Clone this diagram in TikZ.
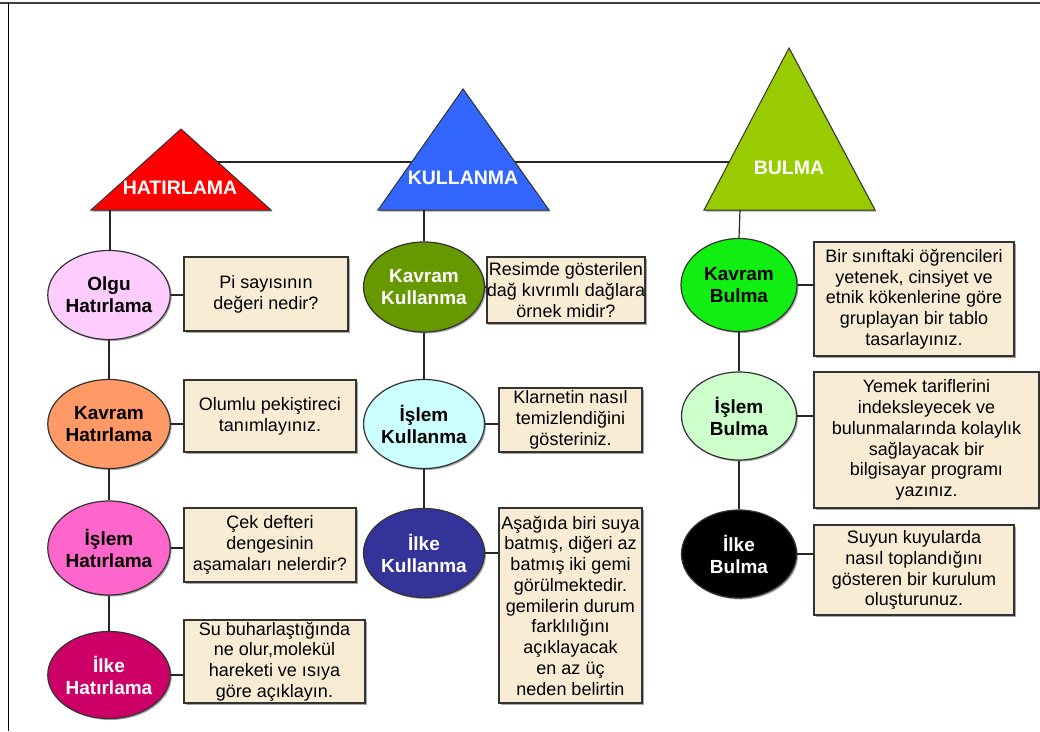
\documentclass[tikz,border=0pt]{standalone}
\usepackage{fontspec}
\setmainfont{Liberation Sans}
\usetikzlibrary{shapes.geometric,shadows}

\definecolor{hatred}{HTML}{FF0000}
\definecolor{kulblue}{HTML}{3366FF}
\definecolor{bulgreen}{HTML}{99CC00}
\definecolor{paper}{HTML}{F8ECD4}
\definecolor{edge}{HTML}{333333}
\definecolor{cOlgu}{HTML}{FFCCFF}
\definecolor{cKavH}{HTML}{FF9966}
\definecolor{cIslH}{HTML}{FF66CC}
\definecolor{cIlkH}{HTML}{CC0066}
\definecolor{cKavK}{HTML}{669900}
\definecolor{cIslK}{HTML}{CCFFFF}
\definecolor{cIlkK}{HTML}{333399}
\definecolor{cKavB}{HTML}{11EE11}
\definecolor{cIslB}{HTML}{CCFFCC}
\definecolor{cIlkB}{HTML}{000000}

\tikzset{
  conn/.style={draw=black!85, line width=1.2pt},
  softshadow/.style={drop shadow={shadow xshift=1.5pt, shadow yshift=-1.5pt, opacity=0.35, fill=black}},
  tri/.style={draw=edge, line width=1pt, softshadow},
  trilabel/.style={text=white, font=\bfseries\fontsize{19.5}{21}\selectfont},
  level/.style={ellipse, draw=edge, line width=1.2pt, inner sep=0pt, align=center,
    softshadow, font=\bfseries\fontsize{19}{22}\selectfont},
  qbox/.style={rectangle, draw=edge, line width=1.2pt, fill=paper, inner sep=0pt,
    align=center, softshadow, font=\fontsize{18}{20.75}\selectfont}
}

\begin{document}
\begin{tikzpicture}[x=1pt,y=-1pt]
\useasboundingbox (0,0) rectangle (1040,731);

% outer frame
\draw[black!75, line width=2pt] (0,3) -- (1040,3);
\draw[black, line width=1pt] (8,3) -- (8,731);

% line joining the three headings
\coordinate (topL) at (181,162);
\coordinate (topR) at (789,162);
\draw[conn] (topL) -- (topR);

% heading triangles
\filldraw[tri, fill=hatred]   (91,210) -- (181,129) -- (271,210) -- cycle;
\filldraw[tri, fill=kulblue]  (378,210) -- (463,89) -- (549,210) -- cycle;
\filldraw[tri, fill=bulgreen] (704,210) -- (789,48) -- (875,210) -- cycle;
\node[trilabel] (hat) at (180,188) {HATIRLAMA};
\node[trilabel] (kul) at (463,178) {KULLANMA};
\node[trilabel] (bul) at (789,168) {BULMA};

\coordinate (hatBase) at (110,210);
\coordinate (kulBase) at (424,210);
\coordinate (bulBase) at (740,210);

% column 1: Hatırlama
\node[level, fill=cOlgu, minimum width=114, minimum height=89] (olgu) at (109,295) {Olgu\\Hatırlama};
\node[level, fill=cKavH, minimum width=114, minimum height=89] (kavH) at (109,424) {Kavram\\Hatırlama};
\node[level, fill=cIslH, minimum width=114, minimum height=94] (islH) at (109,548) {İşlem\\Hatırlama};
\node[level, fill=cIlkH, text=white, minimum width=114, minimum height=87] (ilkH) at (109,675) {İlke\\Hatırlama};

\node[qbox, minimum width=164, minimum height=74] (b1) at (266,294) {Pi sayısının\\değeri nedir?};
\node[qbox, minimum width=172, minimum height=72] (b2) at (270,416) {Olumlu pekiştireci\\tanımlayınız.};
\node[qbox, minimum width=172, minimum height=74] (b3) at (270,545) {Çek defteri\\dengesinin\\aşamaları nelerdir?};
\node[qbox, minimum width=181, minimum height=83] (b4) at (274.5,661.5) {Su buharlaştığında\\ne olur,molekül\\hareketi ve ısıya\\göre açıklayın.};

% column 2: Kullanma
\node[level, fill=cKavK, text=white, minimum width=114, minimum height=90] (kavK) at (424,287) {Kavram\\Kullanma};
\node[level, fill=cIslK, minimum width=114, minimum height=89] (islK) at (424,424) {İşlem\\Kullanma};
\node[level, fill=cIlkK, text=white, minimum width=116, minimum height=89] (ilkK) at (424,553) {İlke\\Kullanma};

\node[qbox, minimum width=154, minimum height=66] (k1) at (566,290) {Resimde gösterilen\\dağ kıvrımlı dağlara\\örnek midir?};
\node[qbox, minimum width=143, minimum height=64] (k2) at (570.5,420) {Klarnetin nasıl\\temizlendiğini\\gösteriniz.};
\node[qbox, minimum width=143, minimum height=195] (k3) at (570.5,605.5) {Aşağıda biri suya\\batmış, diğeri az\\batmış iki gemi\\görülmektedir.\\gemilerin durum\\farklılığını\\açıklayacak\\en az üç\\neden belirtin};

% column 3: Bulma
\node[level, fill=cKavB, minimum width=116, minimum height=93] (kavB) at (739,285) {Kavram\\Bulma};
\node[level, fill=cIslB, minimum width=115, minimum height=88] (islB) at (739,416) {İşlem\\Bulma};
\node[level, fill=cIlkB, text=white, minimum width=115, minimum height=88] (ilkB) at (739,554) {İlke\\Bulma};

\node[qbox, minimum width=200, minimum height=114] (u1) at (914,299) {Bir sınıftaki öğrencileri\\yetenek, cinsiyet ve\\etnik kökenlerine göre\\gruplayan bir tablo\\tasarlayınız.};
\node[qbox, minimum width=225, minimum height=136] (u2) at (926.5,440) {Yemek tariflerini\\indeksleyecek ve\\bulunmalarında kolaylık\\sağlayacak bir\\bilgisayar programı\\yazınız.};
\node[qbox, minimum width=200, minimum height=90] (u3) at (914,570) {Suyun kuyularda\\nasıl toplandığını\\gösteren bir kurulum\\oluşturunuz.};

% vertical connectors down each column
\draw[conn] (hatBase) -- (hatBase |- olgu.north);
\draw[conn] (olgu.south) -- (kavH.north);
\draw[conn] (kavH.south) -- (islH.north);
\draw[conn] (islH.south) -- (ilkH.north);
\draw[conn] (kulBase) -- (kavK.north);
\draw[conn] (kavK.south) -- (islK.north);
\draw[conn] (islK.south) -- (ilkK.north);
\draw[conn] (bulBase) -- (kavB.north);
\draw[conn] (kavB.south) -- (islB.north);
\draw[conn] (islB.south) -- (ilkB.north);

% connectors from levels to example questions
\draw[conn] (olgu.east) -- (olgu.east -| b1.west);
\draw[conn] (kavH.east) -- (kavH.east -| b2.west);
\draw[conn] (islH.east) -- (islH.east -| b3.west);
\draw[conn] (ilkH.east) -- (ilkH.east -| b4.west);
\draw[conn] (kavK.east) -- (kavK.east -| k1.west);
\draw[conn] (islK.east) -- (islK.east -| k2.west);
\draw[conn] (ilkK.east) -- (ilkK.east -| k3.west);
\draw[conn] (kavB.east) -- (kavB.east -| u1.west);
\draw[conn] (islB.east) -- (islB.east -| u2.west);
\draw[conn] (ilkB.east) -- (ilkB.east -| u3.west);
\end{tikzpicture}
\end{document}
